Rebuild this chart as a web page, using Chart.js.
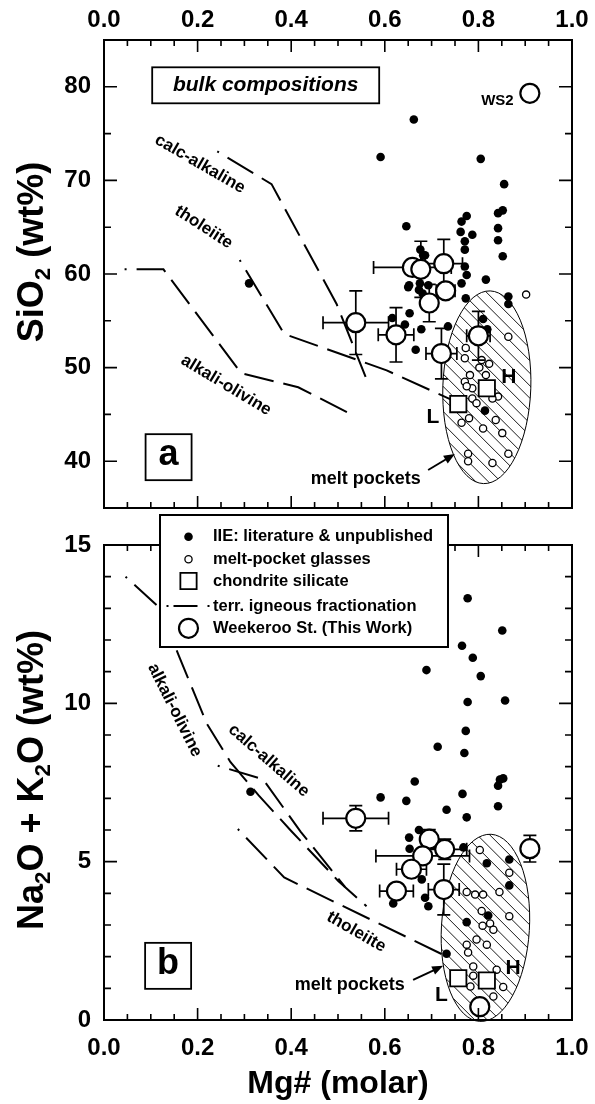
<!DOCTYPE html>
<html><head><meta charset="utf-8">
<script src="https://cdn.jsdelivr.net/npm/chart.js@4.4.0/dist/chart.umd.min.js"></script>
<style>
html,body{margin:0;padding:0;background:#fff;}
#wrap{position:relative;width:595px;height:1104px;overflow:hidden;}
.pane{position:absolute;left:0;}
</style></head><body>
<div id="wrap">
  <div class="pane" style="top:0;width:595px;height:540px"><canvas id="ca" width="595" height="540"></canvas></div>
  <div class="pane" style="top:510px;width:595px;height:594px"><canvas id="cb" width="595" height="594"></canvas></div>
</div>
<script>
const FONT = "'Liberation Sans', Arial, Helvetica, sans-serif";

// ---------- axis ticks ----------
const xTickValues = [0, 0.2, 0.4, 0.6, 0.8, 1.0];
const yTickValuesA = [40, 50, 60, 70, 80];
const yTickValuesB = [0, 5, 10, 15];

// ---------- panel a : SiO2 (wt%) vs Mg# ----------
const iieA_x = [0.662,0.805,0.591,0.855,0.646,0.775,0.764,0.787,0.762,0.771,0.771,0.842,0.852,0.842,0.842,0.852,0.816,0.676,0.686,0.771,0.775,0.764,0.650,0.652,0.675,0.693,0.673,0.681,0.773,0.864,0.864,0.653,0.616,0.643,0.678,0.735,0.666,0.810,0.819,0.814,0.310,0.682];
const iieA_y = [76.5,72.3,72.5,69.6,65.1,66.2,65.6,64.2,64.5,63.5,62.6,66.5,66.8,64.9,63.6,61.9,59.4,62.6,62.0,60.8,59.9,59.0,58.6,58.8,59.0,58.8,58.3,57.9,57.4,57.6,56.8,55.8,55.3,54.6,54.1,54.4,51.9,55.2,54.1,45.4,59.0,62.0];
const glassA_x = [0.902,0.864,0.773,0.771,0.807,0.823,0.802,0.816,0.782,0.771,0.787,0.775,0.842,0.830,0.787,0.796,0.780,0.764,0.837,0.810,0.851,0.778,0.778,0.864,0.830];
const glassA_y = [57.8,53.3,52.1,51.0,50.8,50.4,50.0,49.2,49.2,48.5,47.8,48.0,46.9,46.7,46.7,46.2,44.6,44.1,44.4,43.5,43.0,40.8,40.0,40.8,39.8];
const chondA_x = [0.757, 0.818];
const chondA_y = [46.1, 47.8];
const wkA_x    = [0.659,0.677,0.726,0.730,0.695,0.538,0.624,0.721,0.800,0.910];
const wkA_y    = [60.7,60.5,61.1,58.2,56.9,54.8,53.5,51.5,53.4,79.3];
const wkA_xerr = [0.083,0,0.04,0.02,0,0.07,0.038,0.033,0.025,0];
const wkA_yerr = [0,3.0,2.6,0,2.0,3.4,2.9,2.7,2.6,0];
const calcA_x = [0.242,0.358,0.497,0.559];
const calcA_y = [73.1,69.6,56.8,49.0];
const tholA_x = [0.290,0.385,0.604,0.750];
const tholA_y = [61.5,53.6,49.7,46.4];
const alkA_x  = [0.044,0.127,0.293,0.415,0.521];
const alkA_y  = [60.5,60.5,49.4,47.9,45.2];
const meltFieldA = [0.818, 47.9, 0.094, 10.3];   // centre x, centre y, half-width, half-height

// ---------- panel b : Na2O+K2O (wt%) vs Mg# ----------
const iieB_x = [0.313,0.591,0.664,0.646,0.766,0.732,0.775,0.846,0.842,0.842,0.673,0.652,0.653,0.768,0.818,0.866,0.866,0.679,0.686,0.693,0.618,0.821,0.775,0.732,0.777,0.851,0.765,0.788,0.689,0.805,0.777,0.857,0.773,0.713,0.770,0.853];
const iieB_y = [7.21,7.03,7.53,6.92,7.14,6.64,6.40,7.59,7.40,6.75,6.00,5.76,5.41,5.45,4.95,5.07,4.25,4.44,3.86,3.59,3.68,3.30,3.09,2.09,13.32,12.30,11.82,11.44,11.05,10.86,10.04,10.09,9.13,8.63,8.43,7.63];
const glassB_x = [0.803,0.866,0.775,0.793,0.810,0.845,0.807,0.866,0.809,0.825,0.832,0.796,0.775,0.818,0.778,0.789,0.789,0.839,0.783,0.853,0.832];
const glassB_y = [5.37,4.65,4.04,3.96,3.96,4.04,3.44,3.28,2.98,3.05,2.85,2.54,2.38,2.38,2.13,1.69,1.40,1.59,1.06,1.04,0.74];
const chondB_x = [0.757, 0.818];
const chondB_y = [1.32, 1.25];
const wkB_x    = [0.538,0.695,0.728,0.681,0.657,0.625,0.726,0.910,0.803];
const wkB_y    = [6.37,5.71,5.39,5.18,4.76,4.07,4.12,5.41,0.42];
const wkB_xerr = [0.07,0,0.047,0.10,0.032,0.036,0.033,0,0];
const wkB_yerr = [0.4,0.3,0.32,0,0,0,0.8,0.42,0];
const alkB_x  = [0.046,0.120,0.160,0.220,0.270,0.330,0.400,0.500,0.561];
const alkB_y  = [14.0,13.0,11.5,9.35,8.15,7.1,5.97,4.4,3.59];
const calcB_x = [0.243,0.340,0.420,0.515];
const calcB_y = [8.03,7.60,5.95,4.20];
const tholB_x = [0.286,0.385,0.740];
const tholB_y = [6.03,4.50,1.95];
const meltFieldB = [0.815, 2.91, 0.094, 2.96];

// ---------- helpers ----------
const pts = (xs, ys) => xs.map((x, i) => ({x, y: ys[i]}));

function iieSet(xs, ys){ return {label:'IIE: literature & unpublished', data:pts(xs,ys), pointStyle:'circle', pointRadius:4.3, backgroundColor:'#000', borderColor:'#000', borderWidth:0, showLine:false, order:3, clip:false}; }
function glassSet(xs, ys){ return {label:'melt-pocket glasses', data:pts(xs,ys), pointStyle:'circle', pointRadius:3.6, backgroundColor:'#fff', borderColor:'#000', borderWidth:1.3, showLine:false, order:4, clip:false}; }
function chondSet(xs, ys){ return {label:'chondrite silicate', data:pts(xs,ys), pointStyle:'rect', pointRadius:11.5, backgroundColor:'#fff', borderColor:'#000', borderWidth:1.8, showLine:false, order:2, clip:false}; }
function wkSet(xs, ys, xe, ye){ return {label:'Weekeroo St. (This Work)', data:pts(xs,ys), xErr:xe, yErr:ye, pointStyle:'circle', pointRadius:9.5, backgroundColor:'#fff', borderColor:'#000', borderWidth:2.2, showLine:false, order:1, clip:false}; }
function lineSet(name, xs, ys){ return {label:name, data:pts(xs,ys), showLine:true, pointRadius:0, borderColor:'#000', borderWidth:2, borderDash:[30,10], borderDashOffset:28, fill:false, tension:0, order:6, clip:false}; }

function drawRich(ctx, parts, cx, cy, size, rot){
  ctx.save(); ctx.translate(cx, cy); ctx.rotate(rot);
  let total = 0;
  parts.forEach(p => { ctx.font = `bold ${p.sub ? size*0.62 : size}px ${FONT}`; p.w = ctx.measureText(p.t).width; total += p.w; });
  let x = -total/2;
  ctx.fillStyle = '#000'; ctx.textAlign = 'left'; ctx.textBaseline = 'alphabetic';
  parts.forEach(p => { ctx.font = `bold ${p.sub ? size*0.62 : size}px ${FONT}`; ctx.fillText(p.t, x, size*0.36 + (p.sub ? size*0.2 : 0)); x += p.w; });
  ctx.restore();
}

function arrow(ctx, x1, y1, x2, y2){
  const a = Math.atan2(y2-y1, x2-x1), L = 11, W = 4.5;
  ctx.save(); ctx.strokeStyle='#000'; ctx.fillStyle='#000'; ctx.lineWidth=2;
  ctx.beginPath(); ctx.moveTo(x1,y1); ctx.lineTo(x2 - L*0.8*Math.cos(a), y2 - L*0.8*Math.sin(a)); ctx.stroke();
  ctx.beginPath(); ctx.moveTo(x2,y2);
  ctx.lineTo(x2 - L*Math.cos(a) + W*Math.sin(a), y2 - L*Math.sin(a) - W*Math.cos(a));
  ctx.lineTo(x2 - L*Math.cos(a) - W*Math.sin(a), y2 - L*Math.sin(a) + W*Math.cos(a));
  ctx.closePath(); ctx.fill(); ctx.restore();
}

const deco = {
  id: 'deco',
  beforeDatasetsDraw(chart, args, o){
    const {ctx, scales:{x, y}} = chart;
    const [cx, cy, rx, ry] = o.field;
    const px = x.getPixelForValue(cx), py = y.getPixelForValue(cy);
    const rpx = Math.abs(x.getPixelForValue(cx+rx) - px), rpy = Math.abs(y.getPixelForValue(cy+ry) - py);
    const rot = o.fieldRot*Math.PI/180;
    ctx.save();
    ctx.beginPath(); ctx.ellipse(px, py, rpx, rpy, rot, 0, 2*Math.PI); ctx.fillStyle = '#fff'; ctx.fill();
    ctx.save(); ctx.clip();
    ctx.strokeStyle = '#000'; ctx.lineWidth = 0.9;
    const top = py - rpy - 20, bot = py + rpy + 20, h = bot - top;
    for (let sx = px - rpx - h - 20; sx < px + rpx + 20; sx += o.hatch){
      ctx.beginPath(); ctx.moveTo(sx, top); ctx.lineTo(sx + h, bot); ctx.stroke();
    }
    ctx.restore();
    ctx.beginPath(); ctx.ellipse(px, py, rpx, rpy, rot, 0, 2*Math.PI);
    ctx.strokeStyle = '#000'; ctx.lineWidth = 1; ctx.stroke();
    ctx.restore();
  },
  beforeDatasetDraw(chart, args){
    const ds = chart.data.datasets[args.index];
    if (!ds.xErr) return;
    const {ctx, scales:{x, y}} = chart;
    ctx.save(); ctx.strokeStyle = '#000'; ctx.lineWidth = 1.7;
    const cap = 6.5;
    ds.data.forEach((p, i) => {
      const px = x.getPixelForValue(p.x), py = y.getPixelForValue(p.y);
      const xe = ds.xErr[i], ye = ds.yErr[i];
      if (xe > 0){
        const a = x.getPixelForValue(p.x - xe), b = x.getPixelForValue(p.x + xe);
        ctx.beginPath(); ctx.moveTo(a, py); ctx.lineTo(b, py);
        ctx.moveTo(a, py-cap); ctx.lineTo(a, py+cap); ctx.moveTo(b, py-cap); ctx.lineTo(b, py+cap); ctx.stroke();
      }
      if (ye > 0){
        const a = y.getPixelForValue(p.y - ye), b = y.getPixelForValue(p.y + ye);
        ctx.beginPath(); ctx.moveTo(px, a); ctx.lineTo(px, b);
        ctx.moveTo(px-cap, a); ctx.lineTo(px+cap, a); ctx.moveTo(px-cap, b); ctx.lineTo(px+cap, b); ctx.stroke();
      }
    });
    ctx.restore();
  },
  afterDatasetsDraw(chart, args, o){
    const {ctx, chartArea:ca, scales:{x, y}} = chart;
    ctx.save();
    // inside tick marks on all four sides
    ctx.strokeStyle = '#000'; ctx.lineWidth = 1.6;
    for (let i = 1; i < 20; i++){
      const px = x.getPixelForValue(i*0.05), len = (i % 4 === 0) ? 12 : 6;
      ctx.beginPath(); ctx.moveTo(px, ca.top); ctx.lineTo(px, ca.top + len);
      ctx.moveTo(px, ca.bottom); ctx.lineTo(px, ca.bottom - len); ctx.stroke();
    }
    const t = o.yt;
    for (let v = t.min + t.minor; v < t.max - 1e-9; v += t.minor){
      const py = y.getPixelForValue(v), major = Math.abs(v / t.major - Math.round(v / t.major)) < 1e-6, len = major ? 13 : 7;
      ctx.beginPath(); ctx.moveTo(ca.left, py); ctx.lineTo(ca.left + len, py);
      ctx.moveTo(ca.right, py); ctx.lineTo(ca.right - len, py); ctx.stroke();
    }
    ctx.lineWidth = 2;
    ctx.strokeRect(ca.left, ca.top, ca.right - ca.left, ca.bottom - ca.top);
    // text annotations
    ctx.fillStyle = '#000';
    o.texts.forEach(a => {
      const px = x.getPixelForValue(a.x), py = y.getPixelForValue(a.y);
      ctx.save(); ctx.translate(px, py); ctx.rotate((a.rot || 0)*Math.PI/180);
      ctx.font = `${a.italic ? 'italic ' : ''}bold ${a.size}px ${FONT}`;
      ctx.textAlign = 'center'; ctx.textBaseline = 'middle';
      if (a.box){
        ctx.fillStyle = '#fff'; ctx.fillRect(-a.box[0]/2, -a.box[1]/2, a.box[0], a.box[1]);
        ctx.strokeStyle = '#000'; ctx.lineWidth = 1.8; ctx.strokeRect(-a.box[0]/2, -a.box[1]/2, a.box[0], a.box[1]);
        ctx.fillStyle = '#000';
      }
      ctx.fillText(a.t, 0, a.dy || 0);
      ctx.restore();
    });
    o.arrows.forEach(r => arrow(ctx, x.getPixelForValue(r[0]), y.getPixelForValue(r[1]), x.getPixelForValue(r[2]), y.getPixelForValue(r[3])));
    ctx.restore();
    drawRich(ctx, o.ytitle.parts, o.ytitle.cx, o.ytitle.cy, o.ytitle.size, -Math.PI/2);
  },
  afterDraw(chart, args, o){
    if (!o.legend) return;
    const {ctx} = chart;
    const L = o.legend;
    ctx.save();
    ctx.fillStyle = '#fff'; ctx.fillRect(L.x, L.y, L.w, L.h);
    ctx.strokeStyle = '#000'; ctx.lineWidth = 2; ctx.strokeRect(L.x, L.y, L.w, L.h);
    const ds = chart.data.datasets;
    const find = lab => ds.find(d => d.label === lab);
    const items = [
      {lab:'IIE: literature & unpublished', kind:'pt'},
      {lab:'melt-pocket glasses', kind:'pt'},
      {lab:'chondrite silicate', kind:'pt'},
      {lab:'terr. igneous fractionation', kind:'line'},
      {lab:'Weekeroo St. (This Work)', kind:'pt'}
    ];
    ctx.font = `bold ${L.font}px ${FONT}`; ctx.textAlign = 'left'; ctx.textBaseline = 'middle';
    items.forEach((it, i) => {
      const yy = L.y + L.rows[i];
      if (it.kind === 'pt'){
        const d = find(it.lab);
        ctx.save();
        ctx.fillStyle = d.backgroundColor; ctx.strokeStyle = d.borderColor; ctx.lineWidth = d.borderWidth;
        Chart.helpers.drawPoint(ctx, {pointStyle:d.pointStyle, radius:d.pointRadius, borderWidth:d.borderWidth, rotation:0}, L.sx, yy);
        ctx.restore();
      } else {
        ctx.save(); ctx.strokeStyle = '#000'; ctx.lineWidth = 2;
        ctx.beginPath();
        ctx.moveTo(L.sx - 22, yy); ctx.lineTo(L.sx - 20, yy);
        ctx.moveTo(L.sx - 15, yy); ctx.lineTo(L.sx + 9, yy);
        ctx.moveTo(L.sx + 19, yy); ctx.lineTo(L.sx + 21, yy);
        ctx.stroke(); ctx.restore();
      }
      ctx.fillStyle = '#000';
      ctx.fillText(it.lab, L.tx, yy);
    });
    ctx.restore();
  }
};

const tickFont = {family: FONT, size: 24, weight: 'bold'};

function xScale(pos, withTitle){
  return {
    type:'linear', position:pos, min:0, max:1,
    afterBuildTicks: s => { s.ticks = xTickValues.map(v => ({value:v})); },
    ticks:{font:tickFont, color:'#000', padding:0, maxRotation:0, autoSkip:false, callback: v => Number(v).toFixed(1)},
    grid:{display:false, drawTicks:true, tickLength: pos === 'top' ? 5 : 14, color:'rgba(0,0,0,0)'}, border:{display:false},
    title: withTitle ? {display:true, text:'Mg# (molar)', color:'#000', font:{family:FONT, size:32, weight:'bold', lineHeight:1.2}, padding:{top:0, bottom:1}} : {display:false},
    afterFit: s => { s.height = pos === 'top' ? 40 : 84; }
  };
}
function yScale(min, max, ticks){
  return {
    type:'linear', position:'left', min, max,
    afterBuildTicks: s => { s.ticks = ticks.map(v => ({value:v})); },
    ticks:{font:tickFont, color:'#000', padding:13, autoSkip:false},
    grid:{display:false, drawTicks:false}, border:{display:false},
    afterFit: s => { s.width = 104; }
  };
}

new Chart(document.getElementById('ca'), {
  type:'scatter',
  data:{datasets:[
    wkSet(wkA_x, wkA_y, wkA_xerr, wkA_yerr),
    chondSet(chondA_x, chondA_y),
    iieSet(iieA_x, iieA_y),
    glassSet(glassA_x, glassA_y),
    lineSet('calc-alkaline', calcA_x, calcA_y),
    lineSet('tholeiite', tholA_x, tholA_y),
    lineSet('alkali-olivine', alkA_x, alkA_y)
  ]},
  options:{
    responsive:false, animation:false, events:[],
    layout:{padding:{left:0, right:23, top:0, bottom:32}},
    scales:{x:xScale('top', false), y:yScale(35, 85, yTickValuesA)},
    plugins:{legend:{display:false}, tooltip:{enabled:false},
      deco:{
        field: meltFieldA, fieldRot: 2, hatch: 12.5,
        yt:{min:35, max:85, minor:5, major:10},
        ytitle:{parts:[{t:'SiO'},{t:'2', sub:true},{t:' (wt%)'}], cx:30, cy:252, size:36},
        texts:[
          {t:'bulk compositions', x:0.3455, y:80.16, size:21, italic:true, box:[227,36]},
          {t:'calc-alkaline', x:0.205, y:71.75, rot:30, size:17},
          {t:'tholeiite', x:0.213, y:65.0, rot:33, size:17},
          {t:'alkali-olivine', x:0.261, y:48.1, rot:31, size:17},
          {t:'WS2', x:0.8406, y:78.5, size:15},
          {t:'a', x:0.138, y:40.43, size:36, box:[46,46], dy:-2},
          {t:'melt pockets', x:0.5594, y:38.1, size:18},
          {t:'L', x:0.703, y:44.67, size:21},
          {t:'H', x:0.865, y:48.94, size:21}
        ],
        arrows:[[0.6926, 39.06, 0.7497, 40.77]]
      }
    }
  },
  plugins:[deco]
});

new Chart(document.getElementById('cb'), {
  type:'scatter',
  data:{datasets:[
    wkSet(wkB_x, wkB_y, wkB_xerr, wkB_yerr),
    chondSet(chondB_x, chondB_y),
    iieSet(iieB_x, iieB_y),
    glassSet(glassB_x, glassB_y),
    lineSet('alkali-olivine', alkB_x, alkB_y),
    lineSet('calc-alkaline', calcB_x, calcB_y),
    lineSet('tholeiite', tholB_x, tholB_y)
  ]},
  options:{
    responsive:false, animation:false, events:[],
    layout:{padding:{left:0, right:23, top:35, bottom:0}},
    scales:{x:xScale('bottom', true), y:yScale(0, 15, yTickValuesB)},
    plugins:{legend:{display:false}, tooltip:{enabled:false},
      deco:{
        field: meltFieldB, fieldRot: 3.5, hatch: 12.5,
        yt:{min:0, max:15, minor:1, major:5},
        ytitle:{parts:[{t:'Na'},{t:'2', sub:true},{t:'O + K'},{t:'2', sub:true},{t:'O (wt%)'}], cx:30, cy:270, size:36},
        texts:[
          {t:'alkali-olivine', x:0.151, y:9.78, rot:63.4, size:17},
          {t:'calc-alkaline', x:0.352, y:8.19, rot:41, size:17},
          {t:'tholeiite', x:0.539, y:2.78, rot:30, size:17},
          {t:'b', x:0.137, y:1.71, size:36, box:[46,46], dy:-2},
          {t:'melt pockets', x:0.525, y:1.11, size:18},
          {t:'L', x:0.721, y:0.79, size:21},
          {t:'H', x:0.874, y:1.64, size:21}
        ],
        arrows:[[0.6605, 1.27, 0.7247, 1.71]],
        legend:{x:160, y:5, w:288, h:132, sx:188.5, tx:213, font:16.5, rows:[21.7, 44.3, 66, 91, 113.3]}
      }
    }
  },
  plugins:[deco]
});
</script>
</body></html>
